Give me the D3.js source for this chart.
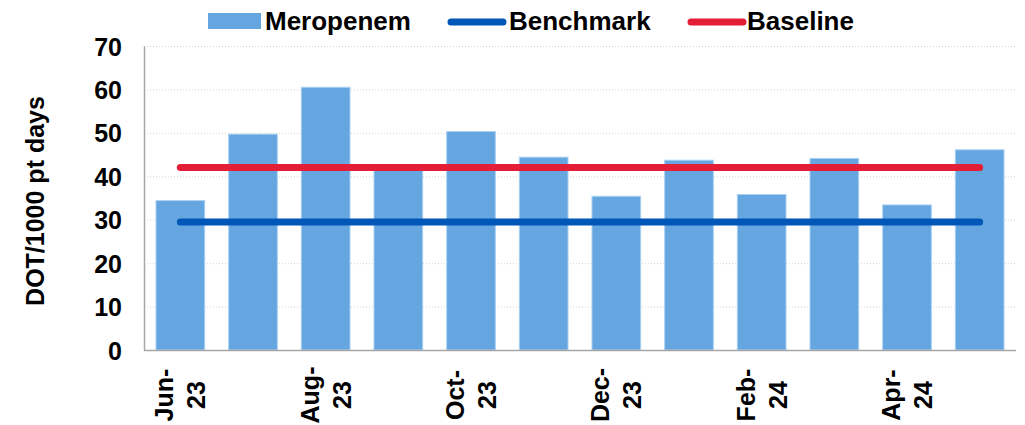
<!DOCTYPE html>
<html>
<head>
<meta charset="utf-8">
<script src="https://cdn.jsdelivr.net/npm/d3@7"></script>
<style>
  body { margin: 0; background: #fff; }
  text { font-family: "Liberation Sans", Arial, sans-serif; font-weight: bold; fill: #000; }
</style>
</head>
<body>
<div id="chart"></div>
<script>
// data
const months = ["Jun-23", "Jul-23", "Aug-23", "Sep-23", "Oct-23", "Nov-23",
                "Dec-23", "Jan-24", "Feb-24", "Mar-24", "Apr-24", "May-24"];
const meropenem = [34.4, 49.7, 60.5, 41.5, 50.3, 44.4, 35.4, 43.7, 35.8, 44.1, 33.4, 46.1];
const benchmark = 29.5;
const baseline = 42.0;
const yTicks = [0, 10, 20, 30, 40, 50, 60, 70];

const width = 1025, height = 425;
const plotLeft = 144, plotRight = 1016, plotTop = 46, plotBottom = 350;

const svg = d3.select("#chart").append("svg")
  .attr("width", width)
  .attr("height", height);

const x = d3.scaleBand()
  .domain(months)
  .range([plotLeft, plotRight])
  .paddingInner(0.33)
  .paddingOuter(0.165);

const y = d3.scaleLinear()
  .domain([0, 70])
  .range([plotBottom, plotTop]);

// gridlines
svg.append("g")
  .selectAll("line")
  .data(yTicks.filter(d => d > 0))
  .enter()
  .append("line")
  .attr("x1", plotLeft)
  .attr("x2", plotRight)
  .attr("y1", d => y(d) + 0.5)
  .attr("y2", d => y(d) + 0.5)
  .attr("stroke", "#d4d4d4")
  .attr("stroke-dasharray", "1,2");

// bars
svg.append("g")
  .selectAll("rect")
  .data(meropenem)
  .enter()
  .append("rect")
  .attr("x", (d, i) => x(months[i]))
  .attr("y", d => y(d))
  .attr("width", x.bandwidth())
  .attr("height", d => y(0) - y(d))
  .attr("fill", "#65a6e0")
  .attr("stroke", "#a9d0f3")
  .attr("stroke-width", 1);

// axes
const yAxis = svg.append("g")
  .attr("transform", "translate(" + plotLeft + ",0)")
  .call(d3.axisLeft(y).tickValues(yTicks).tickSize(0).tickPadding(22));
yAxis.select(".domain").attr("stroke", "#a6a6a6").attr("stroke-width", 1.5);
yAxis.selectAll("text")
  .style("font-size", "25px")
  .attr("dy", "0.36em");

svg.append("line")
  .attr("x1", plotLeft)
  .attr("x2", plotRight)
  .attr("y1", plotBottom + 0.5)
  .attr("y2", plotBottom + 0.5)
  .attr("stroke", "#a6a6a6")
  .attr("stroke-width", 1.5);

// x labels, every other month, rotated and split in two lines
const xl = svg.append("g")
  .selectAll("text")
  .data(months.filter((d, i) => i % 2 === 0))
  .enter()
  .append("text")
  .attr("transform", d => "translate(" + (x(d) + x.bandwidth() / 2) + ",395) rotate(-90)")
  .attr("text-anchor", "middle")
  .style("font-size", "25px");
xl.append("tspan")
  .attr("x", 0)
  .attr("y", -7)
  .text(d => d.split("-")[0] + "-");
xl.append("tspan")
  .attr("x", 0)
  .attr("y", 25)
  .text(d => d.split("-")[1]);

// reference lines
const x0 = x(months[0]) + x.bandwidth() / 2;
const x1 = x(months[months.length - 1]) + x.bandwidth() / 2;

svg.append("line")
  .attr("x1", x0).attr("x2", x1)
  .attr("y1", y(benchmark)).attr("y2", y(benchmark))
  .attr("stroke", "#0057b8")
  .attr("stroke-width", 7)
  .attr("stroke-linecap", "round");

svg.append("line")
  .attr("x1", x0).attr("x2", x1)
  .attr("y1", y(baseline)).attr("y2", y(baseline))
  .attr("stroke", "#e31e36")
  .attr("stroke-width", 7)
  .attr("stroke-linecap", "round");

// y title
svg.append("text")
  .attr("transform", "translate(44,201) rotate(-90)")
  .attr("text-anchor", "middle")
  .style("font-size", "25px")
  .text("DOT/1000 pt days");

// legend
const legend = svg.append("g");
legend.append("rect")
  .attr("x", 208).attr("y", 13)
  .attr("width", 53).attr("height", 16)
  .attr("fill", "#65a6e0");
legend.append("text").attr("x", 265).attr("y", 30).style("font-size", "26px").text("Meropenem");

legend.append("line")
  .attr("x1", 451).attr("x2", 503).attr("y1", 22).attr("y2", 22)
  .attr("stroke", "#0057b8").attr("stroke-width", 7).attr("stroke-linecap", "round");
legend.append("text").attr("x", 509).attr("y", 30).style("font-size", "26px").text("Benchmark");

legend.append("line")
  .attr("x1", 691).attr("x2", 743).attr("y1", 22).attr("y2", 22)
  .attr("stroke", "#e31e36").attr("stroke-width", 7).attr("stroke-linecap", "round");
legend.append("text").attr("x", 747).attr("y", 30).style("font-size", "26px").text("Baseline");
</script>
</body>
</html>
